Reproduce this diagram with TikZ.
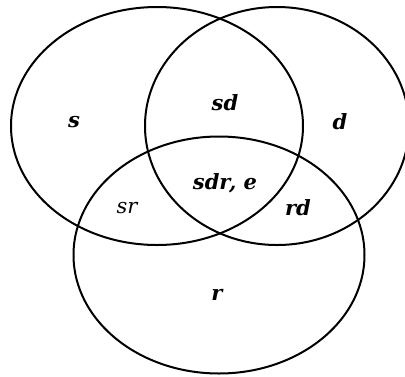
\documentclass[tikz,border=0pt]{standalone}
\usepackage{fontspec}
\setmainfont{DejaVu Serif}
\begin{document}
\begin{tikzpicture}[x=1pt,y=-1pt,
  setline/.style={line width=2pt,black},
  lbl/.style={font=\fontsize{21}{24}\selectfont\bfseries\itshape,inner sep=0pt},
  lbllight/.style={font=\fontsize{21}{24}\selectfont\itshape,inner sep=0pt}]
\useasboundingbox (0,0) rectangle (405,376);
\clip (0,0) rectangle (405,376);
\draw[setline] (157,126) ellipse [x radius=146, y radius=119];
\draw[setline] (277,126) ellipse [x radius=132, y radius=119];
\draw[setline] (219,255) ellipse [x radius=145.5, y radius=118.5];
\node[lbl] (s) at (74,122) {s};
\node[lbl] (sd) at (225,103) {sd};
\node[lbl] (d) at (340,122) {d};
\node[lbl] (sdre) at (225,183) {sdr, e};
\node[lbllight] (sr) at (127,208) {sr};
\node[lbl] (rd) at (298,208) {rd};
\node[lbl] (r) at (217,295) {r};
\end{tikzpicture}
\end{document}
